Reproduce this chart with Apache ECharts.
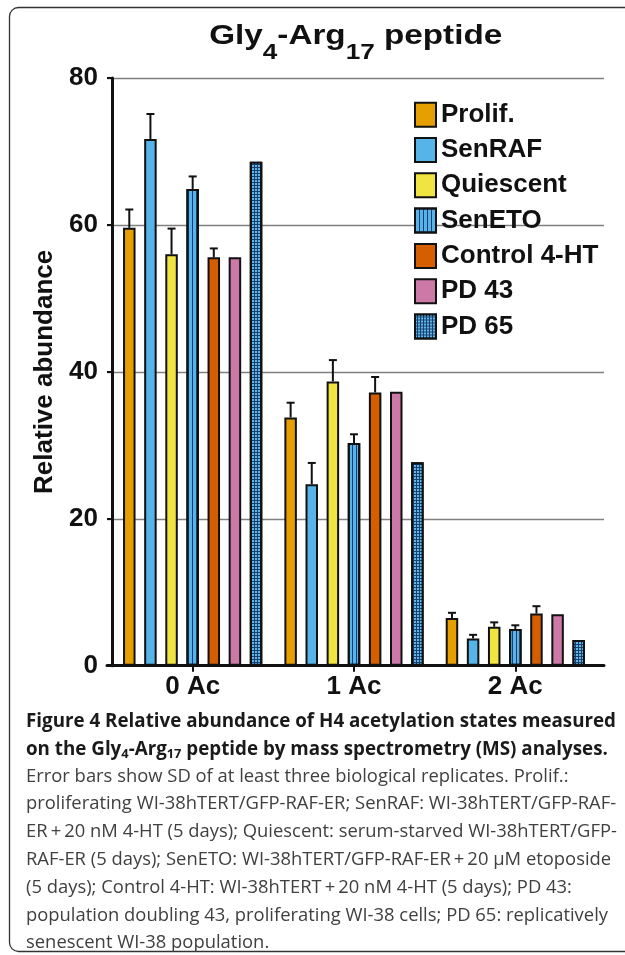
<!DOCTYPE html>
<html>
<head>
<meta charset="utf-8">
<title>Gly4-Arg17 peptide</title>
<script src="https://cdn.jsdelivr.net/npm/echarts@6/dist/echarts.min.js"></script>
<style>
  html, body { margin: 0; padding: 0; background: #fff; }
  #chart { width: 625px; height: 955px; }
</style>
</head>
<body>
<div id="chart"></div>
<script>
// data
const categories = ['0 Ac', '1 Ac', '2 Ac']
const groups = ['Prolif.', 'SenRAF', 'Quiescent', 'SenETO', 'Control 4-HT', 'PD 43', 'PD 65']

const prolif = [59.6, 33.8, 6.5]
const senRaf = [71.7, 24.7, 3.7]
const quiescent = [56.0, 38.7, 5.3]
const senEto = [64.9, 30.3, 5.0]
const control4ht = [55.6, 37.2, 7.1]
const pd43 = [55.6, 37.3, 7.0]
const pd65 = [68.6, 27.7, 3.5]

// upper SD whiskers (PD 43 / PD 65 have none)
const prolifSd = [2.5, 2.0, 0.7]
const senRafSd = [3.4, 2.9, 0.5]
const quiescentSd = [3.5, 2.9, 0.6]
const senEtoSd = [1.7, 1.2, 0.5]
const control4htSd = [1.2, 2.1, 1.0]

const yTicks = [0, 20, 40, 60, 80]

const captionBold = [
  'Figure 4 Relative abundance of H4 acetylation states measured',
  ['on the Gly', '4', '-Arg', '17', ' peptide by mass spectrometry (MS) analyses.']
]
const captionText = [
  'Error bars show SD of at least three biological replicates. Prolif.:',
  'proliferating WI-38hTERT/GFP-RAF-ER; SenRAF: WI-38hTERT/GFP-RAF-',
  'ER\u2009+\u200920 nM 4-HT (5 days); Quiescent: serum-starved WI-38hTERT/GFP-',
  'RAF-ER (5 days); SenETO: WI-38hTERT/GFP-RAF-ER\u2009+\u200920 \u00b5M etoposide',
  '(5 days); Control 4-HT: WI-38hTERT\u2009+\u200920 nM 4-HT (5 days); PD 43:',
  'population doubling 43, proliferating WI-38 cells; PD 65: replicatively',
  'senescent WI-38 population.'
]

const FONT = '"Liberation Sans", Arial, Helvetica, sans-serif'
const CAP_FONT = '"Open Sans", "Noto Sans", sans-serif'
const BAR_WIDTH = 12.5
const BAR_GAP = 0.69

const values = [prolif, senRaf, quiescent, senEto, control4ht, pd43, pd65]
const errors = [prolifSd, senRafSd, quiescentSd, senEtoSd, control4htSd, null, null]
const fills = ['#e69f00', '#56b4e9', '#f0e442', '#56b4e9', '#d55e00', '#cc79a7', '#17406f']

const stripes = {
  symbol: 'rect', symbolSize: 1, symbolKeepAspect: false, color: '#1b3c78',
  dashArrayX: [1, 3], dashArrayY: [4, 0], rotation: 0
}
const checks = {
  symbol: 'rect', symbolSize: 1, symbolKeepAspect: false, color: '#62b6e8',
  dashArrayX: [2, 1], dashArrayY: [2, 1], rotation: 0
}
const decals = [null, null, null, stripes, null, null, checks]

const measureCtx = document.createElement('canvas').getContext('2d')
const textWidth = (text, font) => {
  measureCtx.font = font
  return measureCtx.measureText(text).width
}

const errorData = []
errors.forEach((sd, i) => {
  if (!sd) return
  sd.forEach((s, c) => errorData.push([c, values[i][c], s, i]))
})

const renderErrorBar = (params, api) => {
  const cat = api.value(0)
  const val = api.value(1)
  const sd = api.value(2)
  const idx = api.value(3)
  const pitch = BAR_WIDTH * (1 + BAR_GAP)
  const x = api.coord([cat, 0])[0] + (idx - (groups.length - 1) / 2) * pitch
  const yBar = api.coord([cat, val])[1]
  const yTop = api.coord([cat, val + sd])[1]
  const style = { stroke: '#111', lineWidth: 2, fill: null }
  return {
    type: 'group',
    children: [
      { type: 'line', shape: { x1: x, y1: yBar, x2: x, y2: yTop }, style },
      { type: 'line', shape: { x1: x - 4, y1: yTop, x2: x + 4, y2: yTop }, style }
    ]
  }
}

// title
const titleMain = 'bold 28px ' + FONT
const titleSub = 'bold 22px ' + FONT
const titleScale = 293 / (textWidth('Gly-Arg peptide', titleMain) + textWidth('417', titleSub))

// caption
const boldFont = 'bold 19px ' + CAP_FONT
const regFont = '19px ' + CAP_FONT
const boldScale = 590 / textWidth(captionBold[0], boldFont)
const regScale = 582 / textWidth(captionText[5], regFont)
const lineY = [722, 750, 776.5, 804, 832, 860, 888, 916, 943]

const captionGraphics = [
  {
    type: 'text', x: 26, y: lineY[0], scaleX: boldScale, silent: true,
    style: { text: captionBold[0], font: boldFont, fill: '#1a1a1a', verticalAlign: 'middle' }
  },
  {
    type: 'text', x: 26, y: lineY[1] - 10, scaleX: boldScale, silent: true,
    style: {
      text: captionBold[1].map((t, i) => (i % 2 ? '{s|' : '{m|') + t + '}').join(''),
      verticalAlign: 'top',
      rich: {
        m: { font: boldFont, fill: '#1a1a1a', verticalAlign: 'top' },
        s: { font: 'bold 13px ' + CAP_FONT, fill: '#1a1a1a', verticalAlign: 'top', padding: [8, 0, 0, 0] }
      }
    }
  },
  ...captionText.map((t, i) => ({
    type: 'text', x: 26, y: lineY[i + 2], scaleX: regScale, silent: true,
    style: { text: t, font: regFont, fill: '#404040', verticalAlign: 'middle' }
  }))
]

const chart = echarts.init(document.getElementById('chart'))

chart.setOption({
  animation: false,
  backgroundColor: '#fff',
  grid: [
    { left: 112, top: 78, width: 484, height: 587.7 },
    { left: 107, top: 78, width: 497, height: 587.7 }
  ],
  legend: {
    orient: 'vertical',
    left: 409,
    top: 96.7,
    itemWidth: 21,
    itemHeight: 24,
    itemGap: 9.3,
    icon: 'rect',
    selectedMode: false,
    data: groups,
    itemStyle: { borderColor: '#111', borderWidth: 2 },
    textStyle: {
      fontFamily: FONT, fontSize: 26, fontWeight: 'bold', color: '#111',
      lineHeight: 24
    }
  },
  xAxis: [
    {
      gridIndex: 0,
      type: 'category',
      data: categories,
      axisLine: { show: false },
      axisTick: { show: true, alignWithLabel: true, length: 6, lineStyle: { color: '#111', width: 2 } },
      axisLabel: { fontFamily: FONT, fontSize: 26, fontWeight: 'bold', color: '#111', margin: 8 }
    },
    {
      gridIndex: 1,
      type: 'value',
      min: 0,
      max: 1,
      axisLine: { show: true, lineStyle: { color: '#111', width: 3 } },
      axisTick: { show: false },
      axisLabel: { show: false },
      splitLine: { show: false }
    }
  ],
  yAxis: [
    {
      gridIndex: 0,
      type: 'value',
      min: yTicks[0],
      max: yTicks[yTicks.length - 1],
      interval: yTicks[1] - yTicks[0],
      name: 'Relative abundance',
      nameLocation: 'middle',
      nameGap: 52,
      nameTextStyle: { fontFamily: FONT, fontSize: 26, fontWeight: 'bold', color: '#111' },
      axisLine: { show: true, lineStyle: { color: '#111', width: 3 } },
      axisTick: { show: true, length: 5, lineStyle: { color: '#111', width: 2 } },
      axisLabel: { fontFamily: FONT, fontSize: 26, fontWeight: 'bold', color: '#111', margin: 14 },
      splitLine: { show: false }
    },
    {
      gridIndex: 1,
      type: 'value',
      min: yTicks[0],
      max: yTicks[yTicks.length - 1],
      interval: yTicks[1] - yTicks[0],
      axisLine: { show: false },
      axisTick: { show: false },
      axisLabel: { show: false },
      splitLine: { show: true, lineStyle: { color: '#808080', width: 1.3 } }
    }
  ],
  series: [
    ...groups.map((name, i) => ({
      name,
      type: 'bar',
      xAxisIndex: 0,
      yAxisIndex: 0,
      data: values[i],
      barWidth: BAR_WIDTH,
      barGap: (BAR_GAP * 100) + '%',
      itemStyle: Object.assign(
        { color: fills[i], borderColor: '#111', borderWidth: 2 },
        decals[i] ? { decal: decals[i] } : {}
      ),
      emphasis: { disabled: true }
    })),
    {
      type: 'custom',
      xAxisIndex: 0,
      yAxisIndex: 0,
      data: errorData,
      renderItem: renderErrorBar,
      z: 3,
      silent: true
    }
  ],
  graphic: [
    {
      type: 'rect', silent: true,
      shape: { x: 9.5, y: 7.5, width: 640, height: 944, r: 9 },
      style: { fill: 'none', stroke: '#333', lineWidth: 1.3 }
    },
    {
      type: 'text', x: 355.7, y: 22.7, scaleX: titleScale, silent: true,
      style: {
        text: '{m|Gly}{s|4}{m|-Arg}{s|17}{m| peptide}',
        align: 'center',
        verticalAlign: 'top',
        rich: {
          m: { font: titleMain, fill: '#111', verticalAlign: 'top' },
          s: { font: titleSub, fill: '#111', verticalAlign: 'top', padding: [19, 0, 0, 0] }
        }
      }
    },
    ...captionGraphics
  ]
})
</script>
</body>
</html>
